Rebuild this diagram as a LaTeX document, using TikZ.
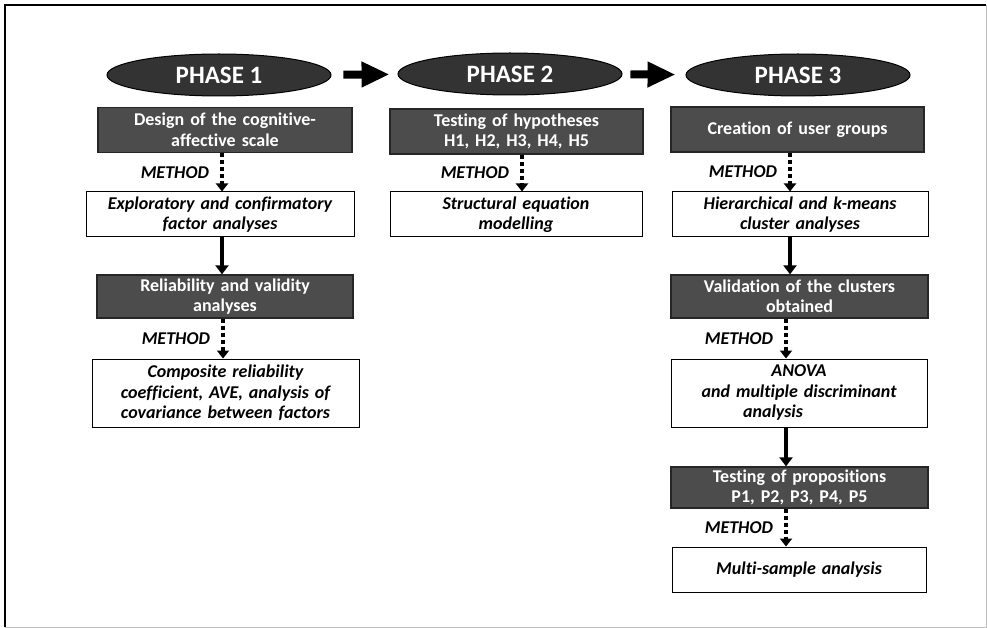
\documentclass[tikz,border=0pt]{standalone}
\usepackage{fontspec}
\setmainfont{Carlito}[Ligatures=NoCommon]
\usetikzlibrary{shapes.geometric,arrows.meta}

\begin{document}
\begin{tikzpicture}[x=1pt,y=-1pt,
  phase/.style={ellipse,draw=black,line width=1pt,fill=black!80,text=white,
    font=\fontsize{25}{28}\selectfont\bfseries,minimum width=224pt,minimum height=42pt,inner sep=0pt},
  taskbox/.style={draw=black!85,line width=1.3pt,fill=black!70,text=white,
    font=\fontsize{18}{20.5}\selectfont\bfseries,align=center,inner xsep=0pt,inner ysep=1pt,
    text width=#1,minimum height=45pt},
  taskbox/.default=254pt,
  methodbox/.style={draw=black,line width=1pt,fill=white,
    font=\fontsize{18}{20.5}\selectfont\bfseries\itshape,align=center,inner xsep=0pt,inner ysep=1pt,
    text width=#1,minimum height=45pt},
  methodbox/.default=268pt,
  methodlabel/.style={font=\fontsize{18}{20}\selectfont\bfseries\itshape,left=8pt},
  via/.style={line width=3.5pt,dash pattern=on 4pt off 3pt,-{Triangle[length=8pt,width=12pt]}},
  flow/.style={line width=3.5pt,-{Triangle[length=9pt,width=13pt]}},
  bigarrow/.style={line width=8pt,-{Triangle[length=28pt,width=24pt]}}]
\useasboundingbox (0,0) rectangle (987,628);
% frame
\draw[line width=1.5pt] (5,627) -- (5,5) -- (986,5);
\draw[black!25] (986,5) -- (986,627) -- (5,627);
% phases
\node[phase] (ph1) at (219,75) {PHASE 1};
\node[phase] (ph2) at (510,74) {PHASE 2};
\node[phase] (ph3) at (798,75) {PHASE 3};
\draw[bigarrow,shorten <=12pt,shorten >=8pt] (ph1) -- (ph2);
\draw[bigarrow,shorten <=8pt,shorten >=10pt] (ph2) -- (ph3);
% phase 1
\node[taskbox] (design) at (225,130) {Design of the cognitive-\\affective scale};
\node[methodbox] (efa) at (220,214.5) {Exploratory and confirmatory\\factor analyses};
\node[taskbox=256pt,minimum height=43pt] (reliab) at (225,296.5) {Reliability and validity\\analyses};
\node[methodbox=267pt,minimum height=68pt] (crc) at (225.5,393) {Composite reliability\\coefficient, AVE, analysis of\\covariance between factors};
\draw[via] ([xshift=-3pt]design.south) -- ([xshift=-3pt]design.south |- efa.north) node[midway,methodlabel] {METHOD};
\draw[flow] ([xshift=2pt]efa.south) -- ([xshift=2pt]efa.south |- reliab.north);
\draw[via] ([xshift=-2pt]reliab.south) -- ([xshift=-2pt]reliab.south |- crc.north) node[midway,methodlabel] {METHOD};
% phase 2
\node[taskbox=253pt] (hyp) at (516.5,131.5) {Testing of hypotheses\\H1, H2, H3, H4, H5};
\node[methodbox=252pt] (sem) at (516,214.5) {Structural equation\\modelling};
\draw[via] ([xshift=5.5pt]hyp.south) -- ([xshift=5.5pt]hyp.south |- sem.north) node[midway,methodlabel] {METHOD};
% phase 3
\node[taskbox=253pt] (groups) at (797.5,129.5) {Creation of user groups};
\node[methodbox=256pt] (cluster) at (800,214.5) {Hierarchical and k-means\\cluster analyses};
\node[taskbox=257pt,minimum height=43pt] (valid) at (799.5,296.5) {Validation of the clusters\\obtained};
\node[methodbox=256pt,minimum height=68pt] (anova) at (799,393) {ANOVA\\and multiple discriminant\\analysis\hspace{52pt}\mbox{}};
\node[taskbox=257pt,minimum height=41pt] (props) at (799.5,487.5) {Testing of propositions\\P1, P2, P3, P4, P5};
\node[methodbox=254pt] (msa) at (799,569.5) {Multi-sample analysis};
\draw[via] ([xshift=-7.5pt]groups.south) -- ([xshift=-7.5pt]groups.south |- cluster.north) node[midway,methodlabel] {METHOD};
\draw[flow] ([xshift=-10pt]cluster.south) -- ([xshift=-10pt]cluster.south |- valid.north);
\draw[via] ([xshift=-13.5pt]valid.south) -- ([xshift=-13.5pt]valid.south |- anova.north) node[midway,methodlabel] {METHOD};
\draw[flow] ([xshift=-13pt]anova.south) -- ([xshift=-13pt]anova.south |- props.north);
\draw[via] ([xshift=-13.5pt]props.south) -- ([xshift=-13.5pt]props.south |- msa.north) node[midway,methodlabel] {METHOD};
\end{tikzpicture}
\end{document}
